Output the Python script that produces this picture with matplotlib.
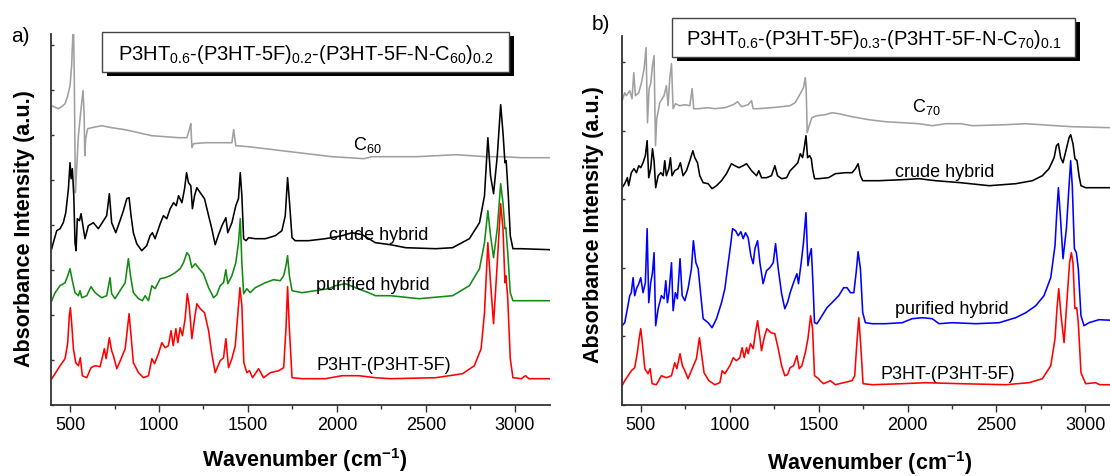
import matplotlib
matplotlib.use("Agg")
import matplotlib.pyplot as plt
from matplotlib.patches import Rectangle
from matplotlib.ticker import MultipleLocator

plt.rcParams['font.family'] = ['Liberation Sans', 'DejaVu Sans']
plt.rcParams['mathtext.fontset'] = 'custom'
plt.rcParams['mathtext.rm'] = 'Liberation Sans'
plt.rcParams['mathtext.it'] = 'Liberation Sans:italic'
plt.rcParams['mathtext.bf'] = 'Liberation Sans:bold'

# ---- panel a) spectra, (wavenumber cm-1, absorbance a.u. offset) ----
c60_a = [(397, 299), (434, 296), (453, 298), (472, 301), (487, 309), (500, 319), (509, 339),
         (519, 385), (524, 326), (530, 212), (537, 235), (547, 269), (562, 296), (573, 314),
         (579, 292), (583, 249), (588, 266), (599, 276), (622, 277), (678, 279), (734, 277),
         (810, 275), (885, 272), (960, 269), (1035, 268), (1110, 267), (1157, 267), (1172, 276),
         (1179, 281), (1185, 257), (1194, 261), (1260, 262), (1316, 262), (1410, 262), (1420, 275),
         (1432, 259), (1504, 258), (1598, 256), (1691, 254), (1785, 252), (1879, 250), (1973, 248),
         (2067, 247), (2151, 246), (2198, 248), (2301, 248), (2450, 248), (2670, 250), (2839, 248),
         (2934, 248), (3037, 247), (3200, 247)]

crude_a = [(397, 156), (406, 162), (425, 174), (444, 176), (462, 182), (476, 192), (491, 216),
           (500, 242), (506, 226), (513, 236), (521, 209), (528, 162), (534, 154), (541, 186),
           (553, 184), (562, 191), (575, 176), (584, 166), (603, 179), (631, 182), (659, 176),
           (688, 184), (706, 189), (721, 211), (734, 182), (757, 172), (781, 184), (800, 194),
           (819, 206), (832, 207), (843, 189), (856, 172), (875, 161), (903, 154), (931, 159),
           (950, 169), (963, 172), (978, 166), (1007, 181), (1025, 189), (1044, 186), (1063, 196),
           (1082, 202), (1097, 199), (1110, 209), (1129, 202), (1144, 216), (1155, 232), (1166, 222),
           (1179, 219), (1188, 196), (1200, 209), (1213, 217), (1232, 212), (1256, 206), (1279, 189),
           (1297, 176), (1316, 160), (1335, 170), (1354, 179), (1376, 187), (1387, 172), (1410, 182),
           (1432, 199), (1447, 206), (1457, 232), (1466, 209), (1476, 166), (1489, 164), (1504, 167),
           (1541, 166), (1598, 166), (1654, 169), (1691, 174), (1710, 189), (1723, 227), (1734, 202),
           (1748, 167), (1766, 164), (1841, 164), (1935, 166), (2029, 169), (2085, 172), (2142, 170),
           (2217, 162), (2301, 160), (2387, 157), (2557, 156), (2651, 157), (2745, 166), (2802, 182),
           (2830, 209), (2849, 267), (2864, 229), (2881, 211), (2902, 249), (2921, 300), (2934, 272),
           (2945, 242), (2952, 244), (2964, 209), (2975, 169), (2990, 156), (3037, 156), (3200, 155)]

purified_a = [(397, 104), (416, 112), (444, 119), (472, 122), (487, 129), (500, 136), (513, 124),
              (528, 112), (547, 109), (556, 114), (566, 107), (594, 109), (618, 118), (641, 112),
              (678, 107), (706, 109), (725, 127), (734, 111), (753, 106), (781, 114), (810, 122),
              (828, 146), (840, 129), (856, 112), (885, 106), (907, 104), (922, 109), (941, 104),
              (960, 119), (978, 116), (1007, 126), (1035, 127), (1063, 129), (1091, 132), (1119, 136),
              (1138, 142), (1157, 152), (1170, 149), (1185, 137), (1204, 141), (1226, 136), (1250, 131),
              (1279, 117), (1307, 107), (1325, 110), (1344, 119), (1363, 122), (1376, 135), (1387, 121),
              (1410, 129), (1432, 142), (1447, 162), (1457, 186), (1466, 142), (1476, 111), (1494, 116),
              (1513, 112), (1541, 117), (1598, 122), (1644, 125), (1682, 124), (1701, 129), (1714, 139),
              (1723, 149), (1733, 129), (1748, 114), (1804, 112), (1879, 114), (1954, 116), (1992, 119),
              (2048, 121), (2104, 117), (2179, 112), (2217, 109), (2301, 109), (2462, 106), (2651, 109),
              (2745, 119), (2802, 136), (2830, 162), (2849, 194), (2864, 169), (2881, 147), (2902, 176),
              (2921, 221), (2934, 202), (2945, 176), (2950, 177), (2962, 149), (2975, 112), (2990, 104),
              (3037, 104), (3200, 104)]

p3ht_a = [(397, 26), (416, 31), (444, 39), (472, 46), (487, 62), (496, 89), (502, 97), (509, 82),
          (519, 56), (532, 42), (547, 39), (558, 47), (569, 29), (594, 27), (618, 37), (641, 39),
          (669, 38), (693, 56), (703, 46), (721, 67), (734, 54), (744, 49), (763, 36), (787, 46),
          (810, 56), (832, 91), (843, 69), (856, 42), (885, 32), (913, 27), (941, 29), (960, 46),
          (975, 41), (997, 51), (1016, 62), (1035, 57), (1053, 59), (1068, 74), (1080, 59), (1095, 76),
          (1106, 62), (1119, 77), (1132, 69), (1147, 86), (1159, 111), (1170, 99), (1185, 66),
          (1200, 86), (1213, 101), (1232, 96), (1256, 92), (1279, 74), (1297, 51), (1316, 32),
          (1344, 44), (1363, 47), (1376, 66), (1391, 37), (1410, 46), (1429, 59), (1444, 92),
          (1455, 117), (1466, 99), (1477, 42), (1494, 32), (1509, 34), (1526, 27), (1560, 36),
          (1588, 27), (1626, 32), (1673, 34), (1701, 37), (1714, 76), (1723, 118), (1733, 76),
          (1748, 27), (1804, 26), (1935, 26), (2029, 29), (2123, 29), (2217, 27), (2301, 26),
          (2557, 27), (2707, 31), (2773, 39), (2811, 56), (2830, 92), (2849, 162), (2864, 122),
          (2881, 81), (2902, 142), (2921, 201), (2934, 176), (2945, 122), (2950, 129), (2960, 109),
          (2975, 46), (2990, 27), (3037, 26), (3060, 29), (3080, 26), (3200, 26)]

# ---- panel b) spectra ----
c70_b = [(395, 304), (410, 312), (419, 309), (438, 314), (451, 306), (461, 332), (470, 309),
         (489, 312), (504, 322), (519, 336), (530, 357), (538, 282), (547, 316), (556, 321),
         (566, 339), (575, 349), (583, 259), (590, 286), (607, 302), (631, 309), (644, 319),
         (654, 299), (663, 326), (673, 341), (682, 296), (695, 301), (719, 299), (748, 300),
         (776, 299), (789, 316), (798, 296), (823, 296), (879, 297), (916, 296), (973, 297),
         (1020, 300), (1044, 303), (1067, 298), (1104, 300), (1123, 304), (1132, 296), (1160, 296),
         (1235, 297), (1292, 298), (1339, 299), (1368, 302), (1397, 311), (1415, 317), (1425, 327),
         (1430, 316), (1436, 272), (1447, 279), (1462, 287), (1491, 289), (1538, 290), (1575, 292),
         (1613, 291), (1688, 288), (1782, 285), (1876, 283), (1970, 282), (2064, 281), (2139, 279),
         (2214, 281), (2299, 281), (2365, 279), (2552, 280), (2665, 281), (2833, 279), (2926, 278),
         (3141, 277), (3200, 277)]

crude_b = [(395, 217), (410, 221), (425, 227), (432, 219), (447, 232), (462, 236), (476, 232),
           (489, 239), (500, 237), (513, 242), (526, 249), (536, 264), (545, 227), (556, 236),
           (566, 256), (575, 244), (584, 217), (598, 229), (613, 232), (626, 229), (635, 244),
           (644, 229), (658, 236), (667, 247), (676, 229), (691, 234), (710, 236), (723, 242),
           (738, 229), (757, 234), (776, 244), (793, 254), (804, 247), (819, 242), (832, 229),
           (851, 222), (879, 221), (901, 216), (926, 219), (954, 224), (982, 231), (1010, 241),
           (1029, 239), (1052, 237), (1076, 239), (1095, 241), (1123, 234), (1151, 229), (1164, 234),
           (1179, 227), (1207, 227), (1235, 229), (1254, 239), (1269, 229), (1292, 226), (1320, 227),
           (1340, 234), (1368, 239), (1383, 242), (1397, 251), (1410, 247), (1421, 259), (1429, 269),
           (1438, 247), (1449, 249), (1459, 246), (1466, 236), (1477, 226), (1500, 226), (1556, 227),
           (1594, 231), (1650, 232), (1688, 232), (1707, 236), (1722, 241), (1735, 229), (1748, 224),
           (1838, 224), (1970, 225), (2064, 226), (2158, 224), (2299, 222), (2459, 219), (2608, 221),
           (2702, 224), (2758, 229), (2795, 236), (2824, 247), (2837, 259), (2848, 261), (2861, 247),
           (2874, 242), (2893, 256), (2908, 267), (2917, 270), (2930, 261), (2941, 246), (2953, 244),
           (2964, 229), (2975, 219), (3001, 217), (3200, 217)]

purified_b = [(395, 79), (410, 82), (425, 96), (438, 109), (447, 112), (457, 127), (466, 109),
              (476, 116), (489, 121), (500, 127), (513, 112), (526, 122), (536, 176), (545, 102),
              (556, 122), (566, 132), (575, 152), (584, 79), (598, 96), (616, 109), (631, 106),
              (641, 124), (650, 102), (659, 112), (673, 142), (682, 94), (695, 112), (706, 106),
              (721, 146), (733, 109), (748, 104), (766, 116), (785, 136), (796, 164), (810, 142),
              (823, 136), (838, 109), (851, 86), (879, 82), (901, 77), (926, 86), (954, 102),
              (973, 116), (992, 142), (1007, 162), (1016, 176), (1033, 174), (1048, 169), (1063, 173),
              (1076, 166), (1089, 172), (1104, 167), (1119, 149), (1132, 141), (1142, 156), (1157, 164),
              (1170, 142), (1188, 121), (1207, 134), (1226, 137), (1245, 142), (1258, 161), (1273, 136),
              (1292, 111), (1310, 96), (1325, 102), (1340, 112), (1359, 122), (1378, 131), (1387, 121),
              (1402, 142), (1415, 162), (1429, 192), (1440, 139), (1449, 149), (1459, 156), (1468, 122),
              (1477, 82), (1491, 81), (1519, 89), (1547, 97), (1575, 102), (1613, 109), (1641, 117),
              (1660, 117), (1679, 112), (1698, 112), (1711, 132), (1722, 153), (1735, 136), (1748, 92),
              (1763, 82), (1801, 81), (1876, 81), (1970, 82), (2026, 86), (2083, 87), (2139, 86),
              (2177, 81), (2252, 82), (2384, 81), (2515, 82), (2608, 87), (2665, 92), (2721, 99),
              (2767, 109), (2805, 127), (2829, 159), (2838, 189), (2848, 217), (2859, 189), (2874, 146),
              (2893, 176), (2908, 219), (2917, 244), (2926, 219), (2938, 156), (2949, 152), (2960, 136),
              (2975, 89), (2992, 79), (3020, 82), (3076, 85), (3200, 84)]

p3ht_b = [(395, 19), (410, 24), (429, 29), (447, 34), (466, 37), (481, 52), (491, 66), (500, 76),
          (509, 62), (523, 36), (541, 31), (553, 36), (564, 21), (588, 20), (616, 29), (644, 27),
          (673, 29), (691, 42), (703, 36), (721, 51), (734, 39), (748, 34), (766, 26), (789, 36),
          (813, 46), (830, 67), (841, 52), (856, 32), (883, 24), (916, 20), (945, 22), (958, 34),
          (973, 31), (1001, 39), (1020, 47), (1038, 44), (1057, 47), (1070, 57), (1082, 47),
          (1095, 57), (1104, 51), (1117, 61), (1132, 56), (1145, 72), (1157, 84), (1170, 67),
          (1179, 54), (1194, 67), (1209, 76), (1232, 72), (1254, 71), (1273, 56), (1292, 39),
          (1310, 29), (1325, 30), (1340, 37), (1359, 39), (1378, 49), (1391, 36), (1406, 39),
          (1425, 52), (1440, 66), (1455, 89), (1466, 76), (1477, 29), (1500, 26), (1509, 24),
          (1528, 21), (1566, 24), (1594, 20), (1641, 22), (1688, 24), (1703, 29), (1714, 59),
          (1726, 87), (1737, 59), (1750, 21), (1801, 20), (1970, 21), (2102, 22), (2299, 21),
          (2552, 20), (2683, 22), (2758, 26), (2805, 39), (2829, 66), (2840, 96), (2850, 116),
          (2863, 89), (2880, 62), (2898, 109), (2911, 142), (2921, 152), (2930, 142), (2941, 96),
          (2951, 97), (2960, 82), (2975, 32), (3001, 21), (3057, 22), (3080, 20), (3200, 20)]

title_a = 'P3HT$_{0.6}$-(P3HT-5F)$_{0.2}$-(P3HT-5F-N-C$_{60}$)$_{0.2}$'
title_b = 'P3HT$_{0.6}$-(P3HT-5F)$_{0.3}$-(P3HT-5F-N-C$_{70}$)$_{0.1}$'

W, H = 1110, 477


def fx(x):
    return x / W


def fy(y):
    return 1 - y / H


fig = plt.figure(figsize=(W / 100, H / 100), dpi=100)

ax_a = fig.add_axes([fx(51), fy(405.7), 499.3 / W, 370.7 / H])
ax_b = fig.add_axes([fx(621.7), fy(405.7), 499.3 / W, 368.7 / H])


def draw(ax, curves, ytop, ystep):
    for pts, col in curves:
        wn = [p[0] for p in pts]
        ab = [p[1] for p in pts]
        ax.plot(wn, ab, color=col, lw=1.15)
    ax.set_xlim(393, 3200)
    ax.set_ylim(0, ytop)
    ax.xaxis.set_major_locator(MultipleLocator(500))
    ax.xaxis.set_minor_locator(MultipleLocator(250))
    ax.yaxis.set_major_locator(MultipleLocator(ystep))
    ax.tick_params(axis='x', which='major', direction='out', length=5, width=1,
                   labelsize=13, color='#333333', pad=3)
    ax.tick_params(axis='x', which='minor', direction='out', length=3, width=1, color='#333333')
    ax.tick_params(axis='y', which='major', direction='in', length=2.5, width=1,
                   labelleft=False, color='#333333')
    for s in ['top', 'right']:
        ax.spines[s].set_visible(False)
    for s in ['left', 'bottom']:
        ax.spines[s].set_linewidth(1.3)
        ax.spines[s].set_color('#333333')
    ax.patch.set_alpha(0)


gray = '#a0a0a0'
draw(ax_a, [(c60_a, gray), (crude_a, 'black'), (purified_a, '#138a13'), (p3ht_a, '#ff0000')],
     370.7, 45)
draw(ax_b, [(c70_b, gray), (crude_b, 'black'), (purified_b, '#0000ff'), (p3ht_b, '#ff0000')],
     368.7, 68.5)

# curve labels
ax_a.text(2093, 256, 'C$_{60}$', fontsize=13, ha='left', va='baseline')
ax_a.text(1954, 166, 'crude hybrid', fontsize=13, ha='left', va='baseline')
ax_a.text(1884, 116, 'purified hybrid', fontsize=13, ha='left', va='baseline')
ax_a.text(1884, 36, 'P3HT-(P3HT-5F)', fontsize=13, ha='left', va='baseline')

ax_b.text(2023, 294, 'C$_{70}$', fontsize=13, ha='left', va='baseline')
ax_b.text(1932, 229, 'crude hybrid', fontsize=13, ha='left', va='baseline')
ax_b.text(1932, 92, 'purified hybrid', fontsize=13, ha='left', va='baseline')
ax_b.text(1847, 27, 'P3HT-(P3HT-5F)', fontsize=13, ha='left', va='baseline')


# title boxes with drop shadow
def title_box(x0, y0, x1, y1, txt):
    fig.add_artist(Rectangle((fx(x0 + 5), fy(y1 + 4)), (x1 - x0) / W, (y1 - y0) / H,
                             transform=fig.transFigure, facecolor='black', edgecolor='none'))
    fig.add_artist(Rectangle((fx(x0), fy(y1)), (x1 - x0) / W, (y1 - y0) / H,
                             transform=fig.transFigure, facecolor='white', edgecolor='#444444',
                             lw=1))
    fig.text(fx((x0 + x1) / 2), fy((y0 + y1) / 2 + 1), txt, fontsize=14.5,
             ha='center', va='center')


title_box(102, 33, 509, 73, title_a)
title_box(672, 19, 1075, 58, title_b)

fig.text(fx(20), fy(37), 'a)', fontsize=15, ha='center', va='center')
fig.text(fx(601), fy(24), 'b)', fontsize=15, ha='center', va='center')

# axis labels
for xc, yc in [(25, 229), (594, 225)]:
    fig.text(fx(xc), fy(yc), 'Absorbance Intensity (a.u.)', fontsize=15.5, fontweight='bold',
             rotation=90, ha='center', va='center')
for xc, yc in [(305, 460), (870, 463)]:
    fig.text(fx(xc), fy(yc), r'Wavenumber (cm$^{\mathbf{-1}}$)', fontsize=15.5,
             fontweight='bold', ha='center', va='center')

fig.savefig('out.png', dpi=100)
